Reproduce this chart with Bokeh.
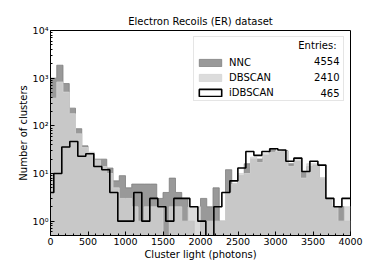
import numpy as np
from bokeh.plotting import figure
from bokeh.models import (Range1d, Legend, LegendItem, Label, FixedTicker,
                          SingleIntervalTicker, CustomJSTickFormatter, ColumnDataSource)
from bokeh.embed import file_html
from bokeh.resources import INLINE

# ---------------- data ----------------
title_text = "Electron Recoils (ER) dataset"
x_label = "Cluster light (photons)"
y_label = "Number of clusters"

x_lo, x_hi = 0, 4000
y_lo, y_hi = 0.5, 1e4

# NNC and DBSCAN: 48 bins over 0-4000 photons
hist_lo, hist_hi, hist_nbins = 0, 4000, 48
nnc_counts = [1000, 1870, 770, 235, 87, 38, 27, 20, 20, 13,
              7, 9, 5, 6, 6, 6, 6, 3, 4, 8,
              4, 3, 1, 0, 3, 2, 5, 1, 12, 6,
              9, 16, 20, 20, 24, 33, 28, 30, 16, 18,
              11, 14, 15, 8, 3, 2, 2, 1]
dbscan_counts = [380, 830, 510, 180, 68, 35, 28, 19, 14, 10,
                 5, 3, 3, 2, 1, 2, 2, 2, 0, 2,
                 2, 1, 2, 2, 1, 1, 1, 1, 4, 6,
                 10, 10, 22, 17, 26, 28, 30, 29, 14, 20,
                 8, 16, 16, 8, 3, 2, 1, 2]

# iDBSCAN: its own binning
idb_first_edge, idb_bin_width = -62.7, 106.7
idbscan_counts = [4, 10, 36, 47, 23, 26, 14, 12, 4, 1,
                  1, 4, 1, 3, 2, 1, 3, 3, 2, 1,
                  0, 2, 4, 7, 13, 29, 24, 29, 33, 31,
                  18, 21, 11, 18, 15, 3, 2, 3, 3]

series_names = ["NNC", "DBSCAN", "iDBSCAN"]
series_entries = ["4554", "2410", "465"]
entries_header = "Entries:"

x_tick_step = 500
y_major_ticks = [1, 10, 100, 1000, 10000]

# ---------------- figure ----------------
FONT = "DejaVu Sans"
p = figure(x_range=Range1d(x_lo, x_hi), y_range=Range1d(y_lo, y_hi),
           y_axis_type="log", frame_width=300, frame_height=205,
           min_border_left=50, min_border_right=23, min_border_top=30,
           min_border_bottom=35, output_backend="svg", toolbar_location=None,
           title=title_text)
p.background_fill_color = "white"
p.border_fill_color = "white"
p.xgrid.visible = False
p.ygrid.visible = False
p.outline_line_color = "black"
p.outline_line_width = 1

p.title.text_font = FONT
p.title.text_font_size = "10px"
p.title.text_font_style = "normal"
p.title.text_color = "black"
p.title.align = "center"
p.title.standoff = 8

floor = 1e-3

def edges_and_tops(edges, counts):
    c = np.asarray(counts, dtype=float)
    c = np.where(c > 0, c, floor)
    return np.asarray(edges), np.append(c, c[-1])

hist_edges = np.linspace(hist_lo, hist_hi, hist_nbins + 1)
idb_edges = idb_first_edge + idb_bin_width * np.arange(len(idbscan_counts) + 1)

NNC_COL = "gray"
DB_COL = "lightgray"

ex, ey = edges_and_tops(hist_edges, nnc_counts)
p.varea_step(x=ex, y1=floor, y2=ey, step_mode="after", fill_color=NNC_COL, fill_alpha=0.8)
p.step(x=ex, y=ey, mode="after", line_color=NNC_COL, line_alpha=0.8, line_width=1)

ex2, ey2 = edges_and_tops(hist_edges, dbscan_counts)
p.varea_step(x=ex2, y1=floor, y2=ey2, step_mode="after", fill_color=DB_COL, fill_alpha=0.8)
p.step(x=ex2, y=ey2, mode="after", line_color=DB_COL, line_alpha=0.8, line_width=1)

ix, iy = edges_and_tops(idb_edges, idbscan_counts)
p.step(x=ix, y=iy, mode="after", line_color="black", line_width=1.6)

# legend proxies (NaN geometry: nothing drawn in the plot)
def proxy():
    return ColumnDataSource(dict(left=[np.nan], right=[np.nan], top=[np.nan], bottom=[np.nan]))

r_nnc = p.quad(source=proxy(), left="left", right="right", top="top", bottom="bottom",
               fill_color=NNC_COL, fill_alpha=0.8, line_color=NNC_COL, line_alpha=0.8, line_width=1)
r_db = p.quad(source=proxy(), left="left", right="right", top="top", bottom="bottom",
              fill_color=DB_COL, fill_alpha=0.8, line_color=DB_COL, line_alpha=0.8, line_width=1)
r_idb = p.quad(source=proxy(), left="left", right="right", top="top", bottom="bottom",
               fill_color="white", line_color="black", line_width=1.6)

legend = Legend(items=[LegendItem(label=series_names[0], renderers=[r_nnc]),
                       LegendItem(label=series_names[1], renderers=[r_db]),
                       LegendItem(label=series_names[2], renderers=[r_idb])],
                location="top_right", margin=6, padding=2, spacing=4,
                glyph_width=28, glyph_height=9, label_height=9, label_width=112,
                label_standoff=5, label_text_font=FONT, label_text_font_size="10px",
                label_text_color="black",
                title=" ", title_text_font=FONT, title_text_font_size="10px", title_standoff=7,
                border_line_color="#cccccc", border_line_width=1,
                background_fill_alpha=0)
p.add_layout(legend)

label_x = 289
label_ys = [175, 159, 143]
p.add_layout(Label(x=286, y=190, x_units="screen", y_units="screen", text=entries_header,
                   text_align="right", text_baseline="middle", text_font=FONT,
                   text_font_size="10px", text_color="black", level="overlay"))
for yy, t in zip(label_ys, series_entries):
    p.add_layout(Label(x=label_x, y=yy, x_units="screen", y_units="screen", text=t,
                       text_align="right", text_baseline="middle", text_font=FONT,
                       text_font_size="10px", text_color="black", level="overlay"))

# axes
minor = [m * 10.0 ** e for e in range(-1, 4) for m in range(2, 10) if m * 10.0 ** e >= y_lo]
p.yaxis.ticker = FixedTicker(ticks=y_major_ticks, minor_ticks=minor)
p.yaxis.formatter = CustomJSTickFormatter(code="""
const sup = {"-1":"\u207b\u00b9","0":"\u2070","1":"\u00b9","2":"\u00b2","3":"\u00b3","4":"\u2074"};
const e = Math.round(Math.log10(tick));
return "10" + sup[String(e)];
""")
p.xaxis.ticker = SingleIntervalTicker(interval=x_tick_step, num_minor_ticks=5)

for ax in (p.xaxis[0], p.yaxis[0]):
    ax.major_tick_in = 4
    ax.major_tick_out = 0
    ax.minor_tick_in = 2
    ax.minor_tick_out = 0
    ax.major_tick_line_color = "black"
    ax.minor_tick_line_color = "black"
    ax.axis_line_color = "black"
    ax.major_label_text_font = FONT
    ax.major_label_text_font_size = "9.5px"
    ax.major_label_text_color = "black"
    ax.axis_label_text_font = FONT
    ax.axis_label_text_font_size = "10px"
    ax.axis_label_text_font_style = "normal"
    ax.axis_label_text_color = "black"

p.xaxis.axis_label = x_label
p.yaxis.axis_label = y_label
p.xaxis.major_label_standoff = 2
p.xaxis.axis_label_standoff = 1
p.yaxis.major_label_standoff = 2
p.yaxis.axis_label_standoff = 1

open("out.html", "w").write(file_html(p, INLINE))
